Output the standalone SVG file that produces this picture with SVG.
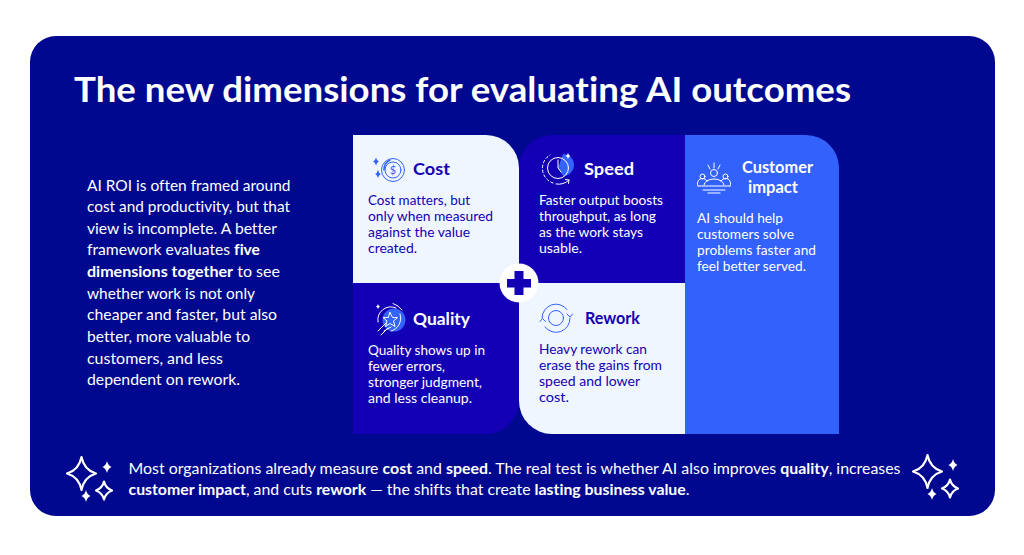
<svg xmlns="http://www.w3.org/2000/svg" width="1024" height="555" viewBox="0 0 1024 555">
<style>
text{font-family:"Lato","Liberation Sans",sans-serif;font-variant-ligatures:none}
.t{font-size:14.200px;font-weight:400}
.p{font-size:15.200px;font-weight:400}
.h{font-size:17.400px;font-weight:700}
.w{fill:#fff}.l{fill:#eef0ff}.d{fill:#1400b4}
.b{font-weight:700}
.ln{fill:none;stroke-width:1;stroke-linecap:round}
.sp{fill:none;stroke:#fff;stroke-width:2.200;stroke-linejoin:round}
</style>
<defs>
<g id="sparkles">
<path class="sp" d="M14.500 0Q17 13 29 16.500Q17 20 14.500 33Q12 20 0 16.500Q12 13 14.500 0Z"/>
<path class="sp" d="M37 24.500Q38.500 31 45 33.500Q38.500 36 37 42.500Q35.500 36 29 33.500Q35.500 31 37 24.500Z"/>
<path d="M40 4Q41 8.500 44.500 10Q41 11.500 40 16Q39 11.500 35.500 10Q39 8.500 40 4Z" fill="#fff"/>
<path d="M19 33Q20 37.500 23.500 39Q20 40.500 19 45Q18 40.500 14.500 39Q18 37.500 19 33Z" fill="#fff"/>
</g>
</defs>
<rect width="1024" height="555" fill="#fff"/>
<rect id="panel" x="30" y="36" width="965" height="480" rx="26" fill="#00088f"/>
<text id="title" x="74" y="102" class="w" font-size="35" font-weight="700" textLength="777" lengthAdjust="spacingAndGlyphs">The new dimensions for evaluating AI outcomes</text>
<g id="intro" class="w p">
<text x="87" y="190.500" textLength="203.500" lengthAdjust="spacingAndGlyphs">AI ROI is often framed around</text>
<text x="87" y="212" textLength="203" lengthAdjust="spacingAndGlyphs">cost and productivity, but that</text>
<text x="87" y="233.500" textLength="190" lengthAdjust="spacingAndGlyphs">view is incomplete. A better</text>
<text x="87" y="255" textLength="173" lengthAdjust="spacingAndGlyphs">framework evaluates <tspan class="b">five</tspan></text>
<text x="87" y="277" textLength="193" lengthAdjust="spacingAndGlyphs"><tspan class="b">dimensions together</tspan> to see</text>
<text x="87" y="298.500" textLength="168" lengthAdjust="spacingAndGlyphs">whether work is not only</text>
<text x="87" y="320" textLength="190" lengthAdjust="spacingAndGlyphs">cheaper and faster, but also</text>
<text x="87" y="342" textLength="163" lengthAdjust="spacingAndGlyphs">better, more valuable to</text>
<text x="87" y="363.500" textLength="136" lengthAdjust="spacingAndGlyphs">customers, and less</text>
<text x="87" y="385" textLength="153" lengthAdjust="spacingAndGlyphs">dependent on rework.</text>
</g>
<g id="connectors"/>
<g id="cost">
<path d="M353 135H486A33 33 0 0 1 519 168V283H353Z" fill="#eff6ff"/>
<g class="ln" stroke="#3563ff">
<circle cx="393" cy="170" r="11.500"/><circle cx="393" cy="170" r="8"/>
<path d="M390 160A11 11 0 0 0 384 170" stroke-width="1.500"/>
</g>
<path d="M376 157.500q.8 3 2.800 4q-2 1-2.800 4q-.8-3-2.800-4q2-1 2.800-4ZM378 170q.8 3 2.800 4q-2 1-2.800 4q-.8-3-2.800-4q2-1 2.800-4Z" fill="#3563ff"/>
<text x="393" y="174" font-size="11" fill="#3563ff" text-anchor="middle">$</text>
<text x="413" y="175" class="h d" textLength="37" lengthAdjust="spacingAndGlyphs">Cost</text>
<g class="t d">
<text x="368" y="205" textLength="102" lengthAdjust="spacingAndGlyphs">Cost matters, but</text>
<text x="368" y="221" textLength="125" lengthAdjust="spacingAndGlyphs">only when measured</text>
<text x="368" y="237" textLength="102" lengthAdjust="spacingAndGlyphs">against the value</text>
<text x="368" y="253" textLength="49" lengthAdjust="spacingAndGlyphs">created.</text>
</g>
</g>
<g id="speed">
<path d="M552 135H685V283H519V168A33 33 0 0 1 552 135Z" fill="#1400b4"/>
<path d="M563 154A10.500 10.500 0 1 1 563 176L558 168Z" fill="#3563ff"/>
<g class="ln" stroke="#fff">
<circle cx="558" cy="168" r="10.500"/>
<path d="M558 160V168L561 172"/>
<path d="M553 183A15.500 15.500 0 0 1 550 155" stroke-dasharray="2.500 2.500"/>
<path d="M556 184A15 15 0 0 0 569 180M565.500 179.500l3.500 .5-.5 3.500"/>
</g>
<path d="M568 153q.6 2.400 2.500 3q-1.900 .6-2.500 3q-.6-2.400-2.500-3q1.900-.6 2.500-3Z" fill="#fff"/>
<text x="584" y="175" class="h w" textLength="50" lengthAdjust="spacingAndGlyphs">Speed</text>
<g class="t w">
<text x="539" y="205" textLength="124" lengthAdjust="spacingAndGlyphs">Faster output boosts</text>
<text x="539" y="221" textLength="117" lengthAdjust="spacingAndGlyphs">throughput, as long</text>
<text x="539" y="237" textLength="104" lengthAdjust="spacingAndGlyphs">as the work stays</text>
<text x="539" y="253" textLength="43" lengthAdjust="spacingAndGlyphs">usable.</text>
</g>
</g>
<g id="quality">
<path d="M353 283H519V401A33 33 0 0 1 486 434H353Z" fill="#1400b4"/>
<circle cx="394" cy="320" r="11.500" fill="#3563ff"/>
<g class="ln" stroke="#fff">
<path d="M378 322A13 13 0 0 1 396 308M400 314A13 13 0 0 1 391 331"/>
<path d="M390 312.500L392.500 317.500H397.500L393.500 321L395 326.500L390 323.500L385.500 326.500L387 321L383 317.500H388Z"/>
<path d="M378 331L386 323M381 335L388 328M384 331L391 327M393 303.500A18 18 0 0 1 402 310"/>
</g>
<path d="M378 304q.5 2 2 2.500q-1.500 .5-2 2.500q-.5-2-2-2.500q1.500-.5 2-2.500Z" fill="#fff"/>
<text x="413" y="325" class="h w" textLength="57" lengthAdjust="spacingAndGlyphs">Quality</text>
<g class="t w">
<text x="368" y="355" textLength="117" lengthAdjust="spacingAndGlyphs">Quality shows up in</text>
<text x="368" y="371" textLength="77" lengthAdjust="spacingAndGlyphs">fewer errors,</text>
<text x="368" y="387" textLength="114" lengthAdjust="spacingAndGlyphs">stronger judgment,</text>
<text x="368" y="403" textLength="104" lengthAdjust="spacingAndGlyphs">and less cleanup.</text>
</g>
</g>
<g id="rework">
<path d="M519 283H685V434H552A33 33 0 0 1 519 401Z" fill="#eff6ff"/>
<g class="ln" stroke="#3563ff">
<circle cx="556" cy="318" r="7.500"/>
<path d="M542 318A14 14 0 0 1 567 309.500M570 318A14 14 0 0 1 545 327M567 314l3 3 2.500-3M540 321.500l2.500-3 3 3"/>
</g>
<text x="585" y="323.500" class="h d" textLength="55" lengthAdjust="spacingAndGlyphs">Rework</text>
<g class="t d">
<text x="539" y="354" textLength="108" lengthAdjust="spacingAndGlyphs">Heavy rework can</text>
<text x="539" y="370" textLength="123" lengthAdjust="spacingAndGlyphs">erase the gains from</text>
<text x="539" y="386" textLength="101" lengthAdjust="spacingAndGlyphs">speed and lower</text>
<text x="539" y="402" textLength="30" lengthAdjust="spacingAndGlyphs">cost.</text>
</g>
</g>
<g id="customer-impact">
<path d="M685 135H806A33 33 0 0 1 839 168V434H685Z" fill="#3361fb"/>
<g class="ln" stroke="#fff">
<circle cx="714" cy="173" r="3.500"/><circle cx="702.500" cy="176.500" r="2.500"/><circle cx="725.500" cy="176.500" r="2.500"/>
<path d="M714 163V168M708 165L710 169M720 165L718 169"/>
<path d="M704 185A10 6 0 0 1 724 185M698 186A5 5 0 0 1 707 181M721 181A5 5 0 0 1 730 186M698 186H730M703 190H725M708 193H720"/>
</g>
<text x="742" y="173" class="h w" textLength="71" lengthAdjust="spacingAndGlyphs">Customer</text>
<text x="748" y="192.500" class="h w" textLength="50" lengthAdjust="spacingAndGlyphs">impact</text>
<g class="t w">
<text x="697" y="223" textLength="86" lengthAdjust="spacingAndGlyphs">AI should help</text>
<text x="697" y="239" textLength="97" lengthAdjust="spacingAndGlyphs">customers solve</text>
<text x="697" y="255" textLength="119" lengthAdjust="spacingAndGlyphs">problems faster and</text>
<text x="697" y="271" textLength="109" lengthAdjust="spacingAndGlyphs">feel better served.</text>
</g>
</g>
<g id="plus">
<circle cx="519" cy="283" r="19.500" fill="#fff"/>
<path d="M514.500 271H523.500V279H531V287.500H523.500V295H514.500V287.500H507V279H514.500Z" fill="#1400b4"/>
</g>
<g id="footer" class="w p">
<text x="128.500" y="473.500" textLength="772" lengthAdjust="spacingAndGlyphs">Most organizations already measure <tspan class="b">cost</tspan> and <tspan class="b">speed</tspan>. The real test is whether AI also improves <tspan class="b">quality</tspan>, increases</text>
<text x="128.500" y="495" textLength="561" lengthAdjust="spacingAndGlyphs"><tspan class="b">customer impact</tspan>, and cuts <tspan class="b">rework</tspan> — the shifts that create <tspan class="b">lasting business value</tspan>.</text>
</g>
<use id="sparkles-left" href="#sparkles" x="67" y="457"/>
<use id="sparkles-right" href="#sparkles" x="913" y="455"/>
</svg>
